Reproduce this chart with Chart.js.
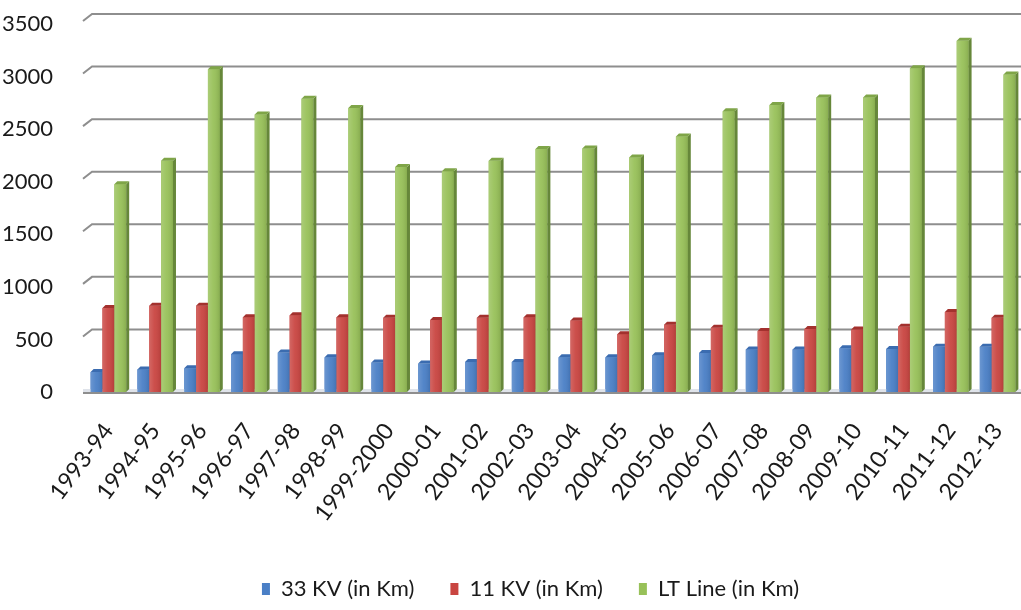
<!DOCTYPE html>
<html>
<head>
<meta charset="utf-8">
<script src="https://cdn.jsdelivr.net/npm/chart.js@4.4.1/dist/chart.umd.min.js"></script>
<style>
  html, body { margin: 0; padding: 0; background: #ffffff; }
  #wrap { width: 1021px; height: 610px; position: relative; }
</style>
</head>
<body>
<div id="wrap"><canvas id="chart"></canvas></div>
<script>
// Line length added per year (km)
const years = ['1993-94', '1994-95', '1995-96', '1996-97', '1997-98', '1998-99', '1999-2000',
  '2000-01', '2001-02', '2002-03', '2003-04', '2004-05', '2005-06', '2006-07', '2007-08',
  '2008-09', '2009-10', '2010-11', '2011-12', '2012-13'];
const kv33 = [190, 215, 225, 360, 375, 330, 280, 270, 285, 285, 330, 330, 350, 370, 405, 405, 415, 410, 430, 430];
const kv11 = [800, 820, 820, 710, 730, 710, 705, 685, 705, 710, 680, 550, 640, 610, 580, 600, 595, 620, 760, 705];
const ltLine = [1975, 2200, 3070, 2640, 2790, 2700, 2140, 2100, 2200, 2310, 2315, 2230, 2430, 2670, 2730, 2800, 2800, 3080, 3340, 3020];
const yTicks = [0, 500, 1000, 1500, 2000, 2500, 3000, 3500];

const seriesNames = ['33 KV (in Km)', '11 KV (in Km)', 'LT Line (in Km)'];
const frontColors = ['#4a7fc6', '#c94541', '#98c159'];
const sideColors = ['#2e5a96', '#8c2d2a', '#66873a'];
const topColors = ['#3b6cb0', '#a3312e', '#7fa548'];

const FONT = 'Lato, "Open Sans", sans-serif';
const DX = 3, DY = 3;
const LEGEND_SHIFT = 40;

// Back wall grid lines with a short slanted side-wall segment
const wallGrid = {
  id: 'wallGrid',
  afterLayout(chart) {
    // nudge the legend row to the right of centre
    if (chart.legend) chart.legend.left += LEGEND_SHIFT;
  },
  beforeDatasetsDraw(chart) {
    const { ctx, chartArea: { left, right }, scales: { y } } = chart;
    ctx.save();
    ctx.strokeStyle = '#8e8e8e';
    ctx.lineWidth = 2;
    yTicks.forEach(v => {
      if (v === 0) return;
      const py = y.getPixelForValue(v);
      ctx.beginPath();
      ctx.moveTo(left - 2, py - 3);
      ctx.lineTo(left + 7, py - 10);
      ctx.lineTo(right + 2, py - 10);
      ctx.stroke();
    });
    ctx.restore();
  }
};

// Columns drawn category by category, left to right within a group,
// each followed by its side and top faces so the next column covers them
const columns3d = {
  id: 'columns3d',
  afterDatasetsDraw(chart) {
    const { ctx, chartArea: { left, right }, scales: { y } } = chart;
    const metas = [0, 1, 2].map(i => chart.getDatasetMeta(i));
    ctx.save();
    // floor
    const py = y.getPixelForValue(0);
    ctx.fillStyle = '#dfe3ea';
    ctx.fillRect(left - 2, py - 3, right - left + 4, 3);
    ctx.strokeStyle = '#8e8e8e';
    ctx.lineWidth = 2;
    ctx.beginPath();
    ctx.moveTo(left - 2, py + 1);
    ctx.lineTo(right + 2, py + 1);
    ctx.stroke();
    for (let j = 0; j < years.length; j++) {
      metas.forEach((meta, i) => {
        const bar = meta.data[j];
        bar.draw(ctx);
        const { x, y: top, base, width } = bar.getProps(['x', 'y', 'base', 'width'], true);
        const l = x - width / 2, r = x + width / 2;
        // soft cylinder-like shading across the front face
        const g = ctx.createLinearGradient(l, 0, r, 0);
        g.addColorStop(0, 'rgba(255,255,255,0.18)');
        g.addColorStop(0.45, 'rgba(255,255,255,0.05)');
        g.addColorStop(1, 'rgba(0,0,0,0.10)');
        ctx.fillStyle = g;
        ctx.fillRect(l, top, width, base - top);
        ctx.fillStyle = sideColors[i];
        ctx.beginPath();
        ctx.moveTo(r, top);
        ctx.lineTo(r + DX, top - DY);
        ctx.lineTo(r + DX, base - DY);
        ctx.lineTo(r, base);
        ctx.closePath();
        ctx.fill();
        ctx.fillStyle = topColors[i];
        ctx.beginPath();
        ctx.moveTo(l, top);
        ctx.lineTo(l + DX, top - DY);
        ctx.lineTo(r + DX, top - DY);
        ctx.lineTo(r, top);
        ctx.closePath();
        ctx.fill();
      });
    }
    ctx.restore();
  }
};

const seriesData = [kv33, kv11, ltLine];

new Chart(document.getElementById('chart'), {
  type: 'bar',
  data: {
    labels: years,
    datasets: seriesData.map((d, i) => ({
      label: seriesNames[i],
      data: d,
      backgroundColor: frontColors[i],
      borderWidth: 0,
      categoryPercentage: 0.76,
      barPercentage: 1.0
    }))
  },
  options: {
    responsive: true,
    maintainAspectRatio: false,
    animation: false,
    layout: { padding: { top: 24, right: 0, left: 0, bottom: 0 } },
    plugins: {
      tooltip: { enabled: false },
      legend: {
        position: 'bottom',
        labels: {
          font: { family: FONT, size: 22 },
          color: '#1a1a1a',
          boxWidth: 8,
          boxHeight: 12,
          padding: 36
        }
      }
    },
    scales: {
      x: {
        grid: { display: false },
        border: { display: false },
        ticks: {
          autoSkip: false,
          minRotation: 53,
          maxRotation: 53,
          padding: 18,
          color: '#1a1a1a',
          font: { family: FONT, size: 23 }
        },
        afterFit(scale) {
          scale.height = 150;
          scale.paddingLeft = 0;
          scale.paddingRight = 0;
        }
      },
      y: {
        min: 0,
        max: 3500,
        grid: { display: false },
        border: { display: false },
        ticks: {
          stepSize: 500,
          padding: 24,
          color: '#1a1a1a',
          font: { family: FONT, size: 22 },
          callback: v => String(v)
        },
        afterFit(scale) {
          scale.width = 85;
          scale.paddingTop = 0;
          scale.paddingBottom = 0;
        }
      }
    }
  },
  plugins: [wallGrid, columns3d]
});
</script>
</body>
</html>
